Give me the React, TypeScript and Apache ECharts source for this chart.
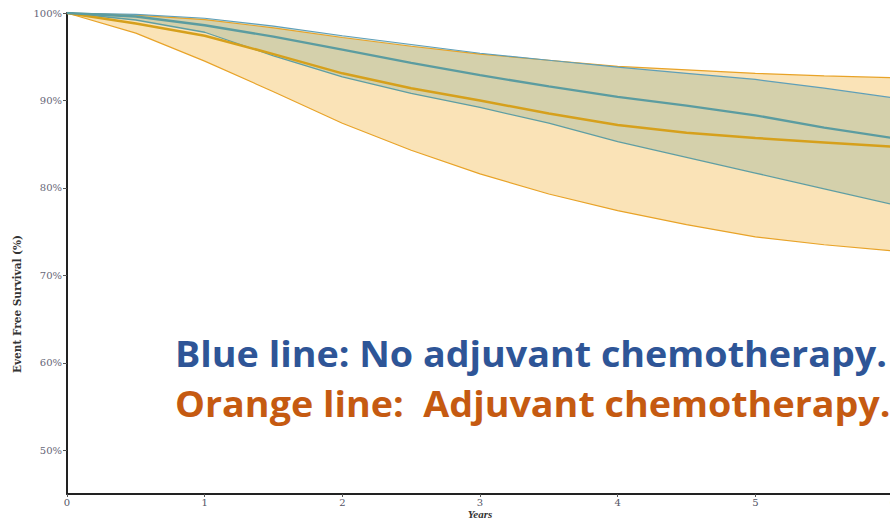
import React, { useEffect, useRef } from "react";
import * as echarts from "echarts";

const years = [0, 0.5, 1, 1.5, 2, 2.5, 3, 3.5, 4, 4.5, 5, 5.5, 6];
const blueMean = [100, 99.6, 98.6, 97.3, 95.8, 94.3, 92.9, 91.6, 90.4, 89.4, 88.3, 86.9, 85.7];
const blueUpper = [100, 99.85, 99.4, 98.5, 97.4, 96.4, 95.4, 94.6, 93.8, 93.1, 92.4, 91.4, 90.3];
const blueLower = [100, 99.2, 97.8, 95.1, 92.7, 90.8, 89.2, 87.4, 85.3, 83.5, 81.7, 79.9, 78.1];
const orangeMean = [100, 98.8, 97.4, 95.3, 93.1, 91.4, 90.0, 88.5, 87.2, 86.3, 85.7, 85.2, 84.7];
const orangeUpper = [100, 99.75, 99.25, 98.3, 97.2, 96.2, 95.3, 94.6, 93.9, 93.5, 93.1, 92.8, 92.6];
const orangeLower = [100, 97.7, 94.5, 91.0, 87.4, 84.3, 81.6, 79.3, 77.4, 75.8, 74.4, 73.5, 72.8];
const yTicks = [50, 60, 70, 80, 90, 100];
const xTicks = [0, 1, 2, 3, 4, 5, 6];

const pts = (arr: number[]) => years.map((x, i) => [x, arr[i]]);

const band = (upper: number[], lower: number[], fill: string) => ({
  type: "custom",
  coordinateSystem: "cartesian2d",
  silent: true,
  data: pts(upper),
  encode: { x: 0, y: 1 },
  renderItem: (params: any, api: any) => {
    if (params.dataIndex !== 0) return null;
    const top = years.map((x, i) => api.coord([x, upper[i]]));
    const bot = years.map((x, i) => api.coord([x, lower[i]])).reverse();
    return { type: "polygon", shape: { points: top.concat(bot) }, style: { fill } };
  },
});

export default function App() {
  const ref = useRef<HTMLDivElement>(null);
  useEffect(() => {
    if (!ref.current) return;
    const chart = echarts.init(ref.current, null, { renderer: "svg" });
    const none = { symbol: "none", silent: true };
    chart.setOption({
      animation: false,
      grid: { left: 67, top: 13, bottom: 25, right: -3, outerBoundsMode: "none", containLabel: false },
      xAxis: {
        type: "value",
        min: 0,
        max: 6,
        interval: 1,
        splitLine: { show: false },
        axisLine: { lineStyle: { color: "#222", width: 2 } },
        axisTick: { length: 3, lineStyle: { color: "#555" } },
        axisLabel: {
          margin: 3,
          color: "#556",
          fontFamily: "DejaVu Serif",
          fontSize: 10,
          customValues: xTicks,
        },
      },
      yAxis: {
        type: "value",
        min: 45,
        max: 100,
        splitLine: { show: false },
        axisLine: { show: true, lineStyle: { color: "#222", width: 2 } },
        axisTick: { show: true, length: 4, lineStyle: { color: "#555" }, customValues: yTicks },
        axisLabel: {
          margin: 5,
          color: "#667",
          fontFamily: "DejaVu Serif",
          fontSize: 10,
          customValues: yTicks,
          formatter: (v: number) => v + "%",
        },
      },
      series: [
        band(orangeUpper, orangeLower, "rgba(240,168,30,0.32)"),
        band(blueUpper, blueLower, "rgba(110,160,140,0.27)"),
        { ...none, type: "line", data: pts(orangeUpper), lineStyle: { color: "#e8a328", width: 1.2 } },
        { ...none, type: "line", data: pts(orangeLower), lineStyle: { color: "#e8a328", width: 1.2 } },
        { ...none, type: "line", data: pts(blueUpper), lineStyle: { color: "#5f9fb8", width: 1.2 } },
        { ...none, type: "line", data: pts(blueLower), lineStyle: { color: "#5f9ea3", width: 1.3 } },
        { ...none, type: "line", data: pts(orangeMean), lineStyle: { color: "#d6a01c", width: 2.5 } },
        { ...none, type: "line", data: pts(blueMean), lineStyle: { color: "#5b9ca0", width: 2.3 } },
      ],
      graphic: [
        {
          type: "text",
          x: 17,
          y: 304,
          rotation: Math.PI / 2,
          style: {
            text: "Event Free Survival (%)",
            font: "bold 10.5px 'DejaVu Serif'",
            fill: "#333",
            align: "center",
            verticalAlign: "middle",
          },
        },
        {
          type: "text",
          x: 480,
          y: 514,
          style: {
            text: "Years",
            font: "italic bold 11px 'Liberation Serif'",
            fill: "#333",
            align: "center",
            verticalAlign: "middle",
          },
        },
        {
          type: "text",
          x: 175,
          y: 354,
          scaleX: 1.077,
          style: {
            text: "Blue line: No adjuvant chemotherapy.",
            font: "bold 35px 'Open Sans'",
            fill: "#2e5597",
            align: "left",
            verticalAlign: "middle",
          },
        },
        {
          type: "text",
          x: 175,
          y: 404,
          scaleX: 1.077,
          style: {
            text: "Orange line:  Adjuvant chemotherapy.",
            font: "bold 35px 'Open Sans'",
            fill: "#c55a11",
            align: "left",
            verticalAlign: "middle",
          },
        },
      ],
    });
    return () => chart.dispose();
  }, []);
  return <div ref={ref} style={{ position: "fixed", left: 0, top: 0, width: 890, height: 519, background: "#fff" }} />;
}
